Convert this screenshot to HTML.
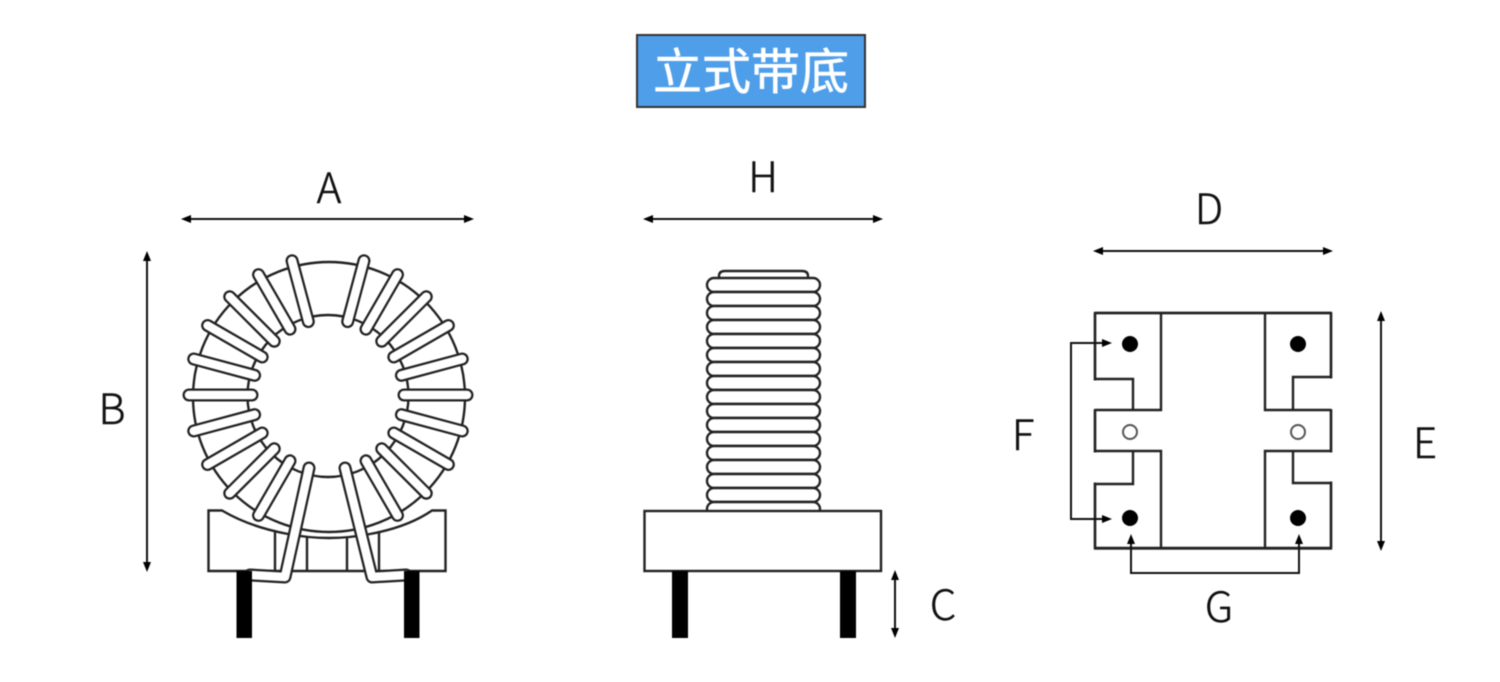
<!DOCTYPE html>
<html><head><meta charset="utf-8">
<style>
html,body{margin:0;padding:0;background:#fff;width:1500px;height:682px;overflow:hidden}
svg{display:block;filter:blur(0.6px)}
.n{font-family:"Noto Sans CJK SC","Noto Sans CJK JP",sans-serif;font-size:42px;fill:#111;stroke:#111;stroke-width:0.5px;text-anchor:middle;font-weight:300}
.o{fill:none;stroke:#222;stroke-width:2.4}
.a{fill:none;stroke:#111;stroke-width:2}
.h{fill:#000;stroke:none}
</style></head><body>
<svg width="1500" height="682" viewBox="0 0 1500 682" xmlns="http://www.w3.org/2000/svg">
<defs>
<g id="cap"><line x1="328" y1="256" x2="328" y2="319" stroke="#222" stroke-width="13" stroke-linecap="round"/><line x1="328" y1="256" x2="328" y2="319" stroke="#fff" stroke-width="8.500" stroke-linecap="round"/></g>
<g id="rib"><rect x="707" y="0" width="113" height="14" rx="7" fill="#fff" stroke="#222" stroke-width="2.400"/></g>
</defs>
<rect width="1500" height="682" fill="#fff"/>

<!-- title -->
<rect x="637" y="35" width="228" height="72" fill="#4f9ee9" stroke="#333" stroke-width="2"/>
<text x="751" y="89" font-family="'Noto Sans CJK SC','Liberation Sans',sans-serif" font-size="49" fill="#fff" stroke="#fff" stroke-width="0.6" text-anchor="middle">立式带底</text>

<!-- left view: base -->
<path class="o" d="M208.500 510.500H222Q250 527 288 534Q329 542 370 534Q408 527 432 510.500H445.500V571H208.500Z" style="fill:#fff"/>
<path class="o" d="M275 531V571M307 537V571M347 537V571M379 531V571"/>
<!-- torus -->
<ellipse cx="329" cy="397" rx="136" ry="135" fill="#fff" stroke="#222" stroke-width="2.400"/>
<ellipse cx="328" cy="396" rx="80.500" ry="81" fill="#fff" stroke="#222" stroke-width="2.400"/>
<use href="#cap" transform="rotate(-15 328 395)"/>
<use href="#cap" transform="rotate(-30 328 395)"/>
<use href="#cap" transform="rotate(-45 328 395)"/>
<use href="#cap" transform="rotate(-60 328 395)"/>
<use href="#cap" transform="rotate(-75 328 395)"/>
<use href="#cap" transform="rotate(-90 328 395)"/>
<use href="#cap" transform="rotate(-105 328 395)"/>
<use href="#cap" transform="rotate(-120 328 395)"/>
<use href="#cap" transform="rotate(-135 328 395)"/>
<use href="#cap" transform="rotate(-150 328 395)"/>
<use href="#cap" transform="rotate(15 328 395)"/>
<use href="#cap" transform="rotate(30 328 395)"/>
<use href="#cap" transform="rotate(45 328 395)"/>
<use href="#cap" transform="rotate(60 328 395)"/>
<use href="#cap" transform="rotate(75 328 395)"/>
<use href="#cap" transform="rotate(90 328 395)"/>
<use href="#cap" transform="rotate(105 328 395)"/>
<use href="#cap" transform="rotate(120 328 395)"/>
<use href="#cap" transform="rotate(135 328 395)"/>
<use href="#cap" transform="rotate(150 328 395)"/>
<!-- leads -->
<path d="M309 468L285 577L250 575" fill="none" stroke="#222" stroke-width="13" stroke-linecap="round" stroke-linejoin="round"/>
<path d="M309 468L285 577L250 575" fill="none" stroke="#fff" stroke-width="8.500" stroke-linecap="round" stroke-linejoin="round"/>
<path d="M345 468L372 577L406 575" fill="none" stroke="#222" stroke-width="13" stroke-linecap="round" stroke-linejoin="round"/>
<path d="M345 468L372 577L406 575" fill="none" stroke="#fff" stroke-width="8.500" stroke-linecap="round" stroke-linejoin="round"/>
<rect x="236.500" y="571" width="15.500" height="67" fill="#000"/>
<rect x="404" y="571" width="15.500" height="67" fill="#000"/>

<!-- middle view: coil -->
<path class="o" d="M719 279V276Q719 271 725 271H802Q808 271 808 276V279"/>
<use href="#rib" y="278"/><use href="#rib" y="292"/><use href="#rib" y="306"/><use href="#rib" y="320"/>
<use href="#rib" y="334"/><use href="#rib" y="348"/><use href="#rib" y="362"/><use href="#rib" y="376"/>
<use href="#rib" y="390"/><use href="#rib" y="404"/><use href="#rib" y="418"/><use href="#rib" y="432"/>
<use href="#rib" y="446"/><use href="#rib" y="460"/><use href="#rib" y="474"/><use href="#rib" y="488"/>
<use href="#rib" y="502"/>
<rect x="644.500" y="511" width="236.500" height="60" fill="#fff" stroke="#222" stroke-width="2.400"/>
<rect x="672" y="571" width="16" height="67" fill="#000"/>
<rect x="840" y="571" width="16" height="67" fill="#000"/>

<!-- right view -->
<rect x="1095" y="313" width="236" height="235.500" fill="#fff" stroke="#222" stroke-width="2.400"/>
<path d="M1093 380.500H1133V409H1093ZM1093 452.500H1133V482.500H1093ZM1293 378.500H1333V409H1293ZM1293 452.500H1333V481.500H1293Z" fill="#fff"/>
<path class="o" d="M1095 313V379H1133V410M1095 410H1161V313M1095 410V451H1161V548M1133 451V484H1095V548"/>
<path class="o" d="M1331 313V377H1293V410M1331 410H1265V313M1331 410V451H1265V548M1293 451V483H1331V548"/>
<path class="o" d="M1095 313H1331M1095 548H1331"/>
<circle cx="1130" cy="344" r="8" fill="#000"/>
<circle cx="1298" cy="344" r="8" fill="#000"/>
<circle cx="1130" cy="518" r="8" fill="#000"/>
<circle cx="1298" cy="518" r="8" fill="#000"/>
<circle cx="1130" cy="432" r="7" fill="#fff" stroke="#555" stroke-width="2"/>
<circle cx="1298" cy="432" r="7" fill="#fff" stroke="#555" stroke-width="2"/>

<!-- dimension lines -->
<path class="a" d="M188 219H468"/><polygon class="h" points="181,219 191,215 191,223"/><polygon class="h" points="474,219 464,215 464,223"/>
<path class="a" d="M650 219H876"/><polygon class="h" points="643,219 653,215 653,223"/><polygon class="h" points="883,219 873,215 873,223"/>
<path class="a" d="M1100 251H1327"/><polygon class="h" points="1093,251 1103,247 1103,255"/><polygon class="h" points="1333,251 1323,247 1323,255"/>
<path class="a" d="M147 258V566"/><polygon class="h" points="147,251 143,261 151,261"/><polygon class="h" points="147,572 143,562 151,562"/>
<path class="a" d="M895 577V632"/><polygon class="h" points="895,570 891,580 899,580"/><polygon class="h" points="895,638 891,628 899,628"/>
<path class="a" d="M1381 318V545"/><polygon class="h" points="1381,311 1377,321 1385,321"/><polygon class="h" points="1381,551 1377,541 1385,541"/>
<path class="a" d="M1104 343H1071V519H1104"/><polygon class="h" points="1112,343 1102,339 1102,347"/><polygon class="h" points="1112,519 1102,515 1102,523"/>
<path class="a" d="M1131 542V573H1299V542"/><polygon class="h" points="1131,534 1127,544 1135,544"/><polygon class="h" points="1299,534 1295,544 1303,544"/>

<!-- labels -->
<text class="n" x="329" y="203">A</text>
<text class="n" x="763" y="192">H</text>
<text class="n" x="1209" y="224">D</text>
<text class="n" x="112" y="424">B</text>
<text class="n" x="943" y="620">C</text>
<text class="n" x="1425" y="458">E</text>
<text class="n" x="1023" y="450">F</text>
<text class="n" x="1219" y="622">G</text>
</svg>
</body></html>
